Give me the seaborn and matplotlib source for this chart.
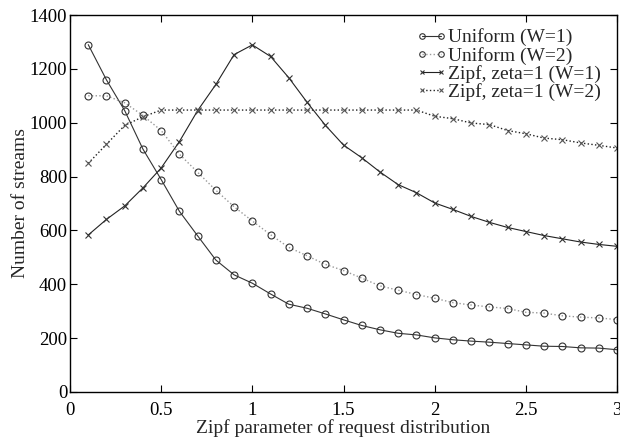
import numpy as np
import pandas as pd
import matplotlib
matplotlib.use("Agg")
import matplotlib.pyplot as plt
import seaborn as sns

x_vals = [0.1, 0.2, 0.3, 0.4, 0.5, 0.6, 0.7, 0.8, 0.9, 1.0,
          1.1, 1.2, 1.3, 1.4, 1.5, 1.6, 1.7, 1.8, 1.9, 2.0,
          2.1, 2.2, 2.3, 2.4, 2.5, 2.6, 2.7, 2.8, 2.9, 3.0]

uniform_w1 = [1290, 1159, 1045, 902, 789, 671, 580, 490, 435, 404,
              364, 326, 311, 290, 268, 247, 231, 218, 212, 201,
              194, 189, 185, 180, 175, 170, 169, 164, 163, 157]
uniform_w2 = [1100, 1100, 1074, 1027, 971, 883, 816, 749, 688, 635,
              584, 537, 506, 474, 451, 423, 394, 378, 362, 348,
              332, 323, 316, 310, 296, 293, 283, 278, 275, 269]
zipf_w1 = [583, 641, 691, 758, 832, 930, 1045, 1142, 1253, 1289,
           1246, 1167, 1076, 991, 917, 870, 817, 770, 740, 702,
           678, 652, 630, 611, 596, 581, 569, 557, 548, 541]
zipf_w2 = [849, 920, 990, 1022, 1047, 1047, 1047, 1047, 1047, 1047,
           1047, 1047, 1047, 1047, 1047, 1047, 1047, 1047, 1047, 1024,
           1015, 999, 993, 971, 959, 943, 937, 925, 916, 906]

labels = ["Uniform (W=1)", "Uniform (W=2)", "Zipf, zeta=1 (W=1)", "Zipf, zeta=1 (W=2)"]
series = [uniform_w1, uniform_w2, zipf_w1, zipf_w2]

sns.set_style("ticks")
plt.rcParams['font.family'] = ['Liberation Serif', 'DejaVu Serif']

fig = plt.figure(figsize=(6.2, 4.37), dpi=100)
ax = fig.add_axes([70/620, 1 - 392/437, 547/620, 377/437])

styles = [
    dict(marker='o', linestyle='-', color='#333333', ms=5, mec='#333333', lw=0.8),
    dict(marker='o', linestyle=':', color='#999999', ms=5, mec='#333333', lw=1.0),
    dict(marker='x', linestyle='-', color='#222222', ms=3.8, mec='#333333', lw=0.8),
    dict(marker='x', linestyle=':', color='#222222', ms=3.8, mec='#555555', lw=1.0),
]

for lab, ys, st in zip(labels, series, styles):
    df = pd.DataFrame({"x": x_vals, "y": ys})
    sns.lineplot(data=df, x="x", y="y", ax=ax, label=lab,
                 marker=st['marker'], linestyle=st['linestyle'], color=st['color'],
                 markersize=st['ms'], markerfacecolor='none', markeredgecolor=st['mec'],
                 markeredgewidth=0.8, linewidth=st['lw'])

ax.set_xlim(0, 3)
ax.set_ylim(0, 1400)
ax.set_xticks([0, 0.5, 1, 1.5, 2, 2.5, 3])
ax.set_xticklabels(["0", "0.5", "1", "1.5", "2", "2.5", "3"])
ax.set_yticks(range(0, 1401, 200))
ax.tick_params(direction='in', top=True, right=True, labelsize=13.5, length=5, width=0.8, colors='black')
ax.tick_params(axis='y', pad=2)
ax.tick_params(axis='x', pad=7)
for sp in ax.spines.values():
    sp.set_visible(True)
    sp.set_linewidth(1.0)
    sp.set_color('black')

ax.set_xlabel("Zipf parameter of request distribution", fontsize=14, labelpad=0)
ax.set_ylabel("Number of streams", fontsize=14, labelpad=0.5)

leg = ax.legend(loc='upper right', frameon=False, fontsize=14, numpoints=2,
                handlelength=1.6, handletextpad=0.05, labelspacing=0.02,
                borderaxespad=0.0, bbox_to_anchor=(0.985, 0.985))
for h in leg.legend_handles:
    h.set_markersize(h.get_markersize() * 0.8)

fig.savefig("out.png", dpi=100)
